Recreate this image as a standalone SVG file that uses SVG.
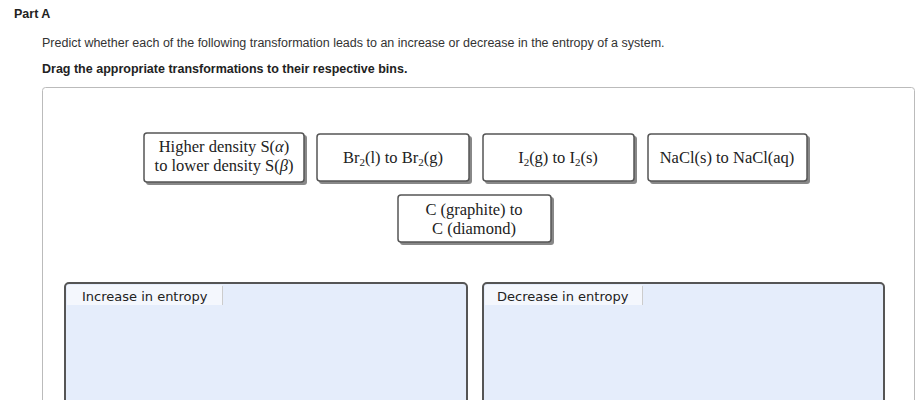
<svg xmlns="http://www.w3.org/2000/svg" width="923" height="400" viewBox="0 0 923 400">
<style>
.h{font-family:"Liberation Sans",Arial,sans-serif;font-weight:bold;font-size:12.5px;fill:#222}
.p{font-family:"Liberation Sans",Arial,sans-serif;font-size:12.5px;fill:#333}
.t{font-family:"Liberation Serif","Times New Roman",serif;font-size:16.5px;fill:#222;text-anchor:middle}
.b{font-family:"DejaVu Sans",Verdana,sans-serif;font-size:13px;fill:#222}
.tile{fill:#fff;stroke:#555;stroke-width:1.5}
.sh{fill:#888}
.bin{fill:#e5edfb;stroke:#555;stroke-width:2}
</style>
<rect width="923" height="400" fill="#fff"/>
<text class="h" x="14" y="18">Part A</text>
<text class="p" x="42" y="47">Predict whether each of the following transformation leads to an increase or decrease in the entropy of a system.</text>
<text class="h" x="42" y="73">Drag the appropriate transformations to their respective bins.</text>
<rect x="42.5" y="87.5" width="872" height="330" rx="3" fill="#fff" stroke="#bbb"/>
<g id="tile1"><rect class="sh" x="146" y="135" width="161" height="50" rx="3"/><rect class="tile" x="144" y="133" width="160" height="49" rx="3"/>
<text class="t" x="224" y="152">Higher density S(<tspan font-style="italic">α</tspan>)</text><text class="t" x="224" y="171">to lower density S(<tspan font-style="italic">β</tspan>)</text></g>
<g id="tile2"><rect class="sh" x="319" y="136" width="153" height="48" rx="3"/><rect class="tile" x="317" y="134" width="152" height="47" rx="3"/>
<text class="t" x="393" y="163">Br<tspan font-size="11" dy="3">2</tspan><tspan dy="-3">(l) to Br</tspan><tspan font-size="11" dy="3">2</tspan><tspan dy="-3">(g)</tspan></text></g>
<g id="tile3"><rect class="sh" x="485" y="136" width="152" height="48" rx="3"/><rect class="tile" x="483" y="134" width="151" height="47" rx="3"/>
<text class="t" x="558" y="163">I<tspan font-size="11" dy="3">2</tspan><tspan dy="-3">(g) to I</tspan><tspan font-size="11" dy="3">2</tspan><tspan dy="-3">(s)</tspan></text></g>
<g id="tile4"><rect class="sh" x="650" y="136" width="160" height="48" rx="3"/><rect class="tile" x="648" y="134" width="159" height="47" rx="3"/>
<text class="t" x="727" y="163">NaCl(s) to NaCl(aq)</text></g>
<g id="tile5"><rect class="sh" x="400" y="197" width="154" height="48" rx="3"/><rect class="tile" x="398" y="195" width="153" height="47" rx="3"/>
<text class="t" x="474" y="215">C (graphite) to</text><text class="t" x="474" y="234">C (diamond)</text></g>
<g id="bin1"><rect class="bin" x="65" y="283" width="402" height="130" rx="4"/><rect x="67" y="285" width="155" height="20" fill="#f4f7fd"/><line x1="222.5" y1="286" x2="222.5" y2="305" stroke="#ccc"/>
<text class="b" x="82" y="301">Increase in entropy</text></g>
<g id="bin2"><rect class="bin" x="483" y="283" width="401" height="130" rx="4"/><rect x="485" y="285" width="157" height="20" fill="#f4f7fd"/><line x1="642.5" y1="286" x2="642.5" y2="305" stroke="#ccc"/>
<text class="b" x="497" y="301">Decrease in entropy</text></g>
<g id="connectors"/>
</svg>
